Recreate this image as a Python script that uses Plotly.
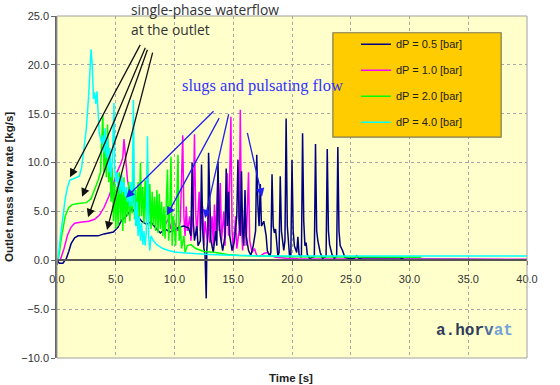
import plotly.graph_objects as go

# ---------------- data ----------------
navy_t = [
    0, 0.2, 0.5, 0.8, 1.0, 1.2, 1.5, 1.8, 2.5, 3.5,
    4.0, 4.4, 4.8, 5.2, 5.5, 5.8, 6.1, 6.4, 6.8, 7.2,
    7.6, 8.0, 8.4, 8.8, 9.2, 9.6, 10.0, 10.4, 10.8, 11.2,
    11.4, 11.5, 11.6, 11.7, 11.9, 12.0, 12.2, 12.3, 12.4, 12.5,
    12.6, 12.7, 12.75, 12.85, 12.9, 13.0, 13.1, 13.3, 13.5, 13.6,
    13.7, 13.8, 13.9, 14.1, 14.3, 14.4, 14.5, 14.6, 14.7, 14.9,
    15.1, 15.3, 15.4, 15.5, 15.6, 15.7, 15.8, 15.9, 16.0, 16.1,
    16.3, 16.5, 16.7, 16.9, 17.0, 17.1, 17.2, 17.3, 17.4, 17.6,
    17.8, 17.9, 18.1, 18.2, 18.3, 18.4, 18.5, 18.6, 18.7, 18.8,
    18.9, 19.0, 19.1, 19.2, 19.3, 19.4, 19.5, 19.6, 19.7, 19.8,
    19.9, 20.0, 20.1, 20.2, 20.4, 20.5, 20.6, 20.8, 20.9, 21.0,
    21.1, 21.2, 21.3, 21.5, 21.9, 22.0, 22.1, 22.2, 22.4, 22.6,
    22.9, 23.0, 23.1, 23.2, 23.4, 23.6, 23.8, 23.9, 24.0, 24.1,
    24.3, 24.5, 24.8, 25.3, 25.5, 25.7, 26.0, 29.2, 29.5, 40.0]
navy_v = [
    0, -0.3, -0.3, 0.2, 0.9, 1.7, 2.3, 2.5, 2.5, 2.5,
    2.7, 2.8, 2.9, 3.4, 4.1, 4.4, 4.8, 5.3, 4.6, 4.0,
    3.7, 3.9, 3.3, 2.8, 3.2, 2.9, 3.1, 3.4, 3.5, 3.3,
    2.5, 10.0, 4.0, 2.0, 3.5, 1.5, 2.0, 9.8, 3.0, 1.2,
    0.6, -3.9, 1.0, 3.0, 11.0, 4.5, 2.0, 0.8, 3.0, 1.5,
    10.1, 4.0, 2.5, 1.0, 2.5, 9.4, 3.5, 7.0, 2.5, 1.0,
    2.0, 4.5, 10.3, 4.0, 2.5, 9.1, 3.0, 1.5, 7.2, 2.5,
    1.0, 0.5, 1.5, 3.0, 10.8, 5.5, 3.5, 7.8, 3.5, 4.0,
    2.5, 1.0, 0.4, 0.8, 8.8, 3.5, 2.8, 3.2, 1.5, 0.4,
    0.8, 8.6, 3.0, 1.8, 1.0, 2.0, 14.5, 3.5, 1.5, 0.3,
    0.5, 10.3, 3.0, 1.5, 0.8, 2.4, 0.6, 0.3, 13.0, 4.0,
    1.5, 1.8, 0.6, 0.2, 0.4, 11.9, 3.0, 2.0, 0.8, 0.2,
    0.4, 11.4, 3.0, 1.6, 0.6, 0.2, 0.4, 11.6, 3.0, 1.5,
    1.0, 0.3, 0.2, 0.2, 0.45, 0.2, 0.25, 0.25, 0.1, 0.05]

mag_t = [
    0, 0.3, 0.6, 0.9, 1.2, 1.5, 2.0, 2.7, 3.2, 3.6,
    4.0, 4.4, 4.8, 5.1, 5.4, 5.6, 5.7, 5.8, 6.0, 6.2,
    6.5, 6.8, 7.1, 7.4, 7.7, 8.0, 8.3, 8.6, 8.9, 9.2,
    9.5, 9.7, 10.0, 10.3, 10.5, 10.7, 10.8, 10.9, 11.0, 11.1,
    11.3, 11.4, 11.6, 11.7, 11.8, 11.9, 12.0, 12.1, 12.2, 12.4,
    12.5, 12.6, 12.8, 12.9, 13.0, 13.2, 13.3, 13.4, 13.5, 13.7,
    13.8, 13.9, 14.0, 14.2, 14.3, 14.5, 14.6, 14.8, 14.9, 15.0,
    15.2, 15.3, 15.5, 15.6, 15.7, 15.8, 16.0, 16.1, 16.3, 16.4,
    16.6, 16.8, 17.0, 17.3, 17.6, 17.9, 18.2, 18.6, 19.5, 20.5,
    40.0]
mag_v = [
    0, 0.1, 1.2, 2.6, 3.4, 3.8, 3.9, 4.0, 4.2, 4.6,
    5.4, 6.5, 7.8, 9.0, 9.8, 10.5, 12.4, 11.0, 8.2, 7.0,
    6.5, 5.5, 6.8, 5.2, 6.0, 4.8, 5.5, 4.5, 4.8, 3.6,
    4.3, 3.2, 3.8, 3.0, 4.0, 12.8, 4.5, 2.5, 5.5, 3.0,
    4.5, 2.0, 5.0, 12.9, 5.0, 2.5, 4.5, 7.0, 3.0, 5.5,
    1.5, 4.0, 2.0, 6.0, 1.8, 4.5, 1.5, 5.7, 2.0, 9.1,
    3.0, 7.9, 2.0, 5.0, 1.5, 8.9, 2.5, 14.7, 3.0, 1.0,
    4.5, 1.2, 3.0, 15.4, 3.5, 1.0, 6.0, 1.5, 9.0, 2.0,
    0.8, 1.2, 0.5, 0.4, 0.7, 0.8, 0.5, 0.3, 0.2, 0.15,
    0.1]

grn_t = [
    0, 0.15, 0.4, 0.7, 1.0, 1.3, 1.8, 2.5, 2.9, 3.2,
    3.5, 3.7, 3.9, 4.0, 4.1, 4.2, 4.3, 4.4, 4.5, 4.6,
    4.7, 4.8, 4.9, 5.0, 5.1, 5.2, 5.3, 5.4, 5.5, 5.6,
    5.7, 5.8, 5.9, 6.0, 6.1, 6.2, 6.3, 6.4, 6.5, 6.6,
    6.7, 6.8, 6.9, 7.0, 7.1, 7.2, 7.3, 7.4, 7.5, 7.6,
    7.7, 7.8, 7.9, 8.0, 8.1, 8.2, 8.3, 8.4, 8.5, 8.6,
    8.7, 8.8, 8.9, 9.0, 9.1, 9.2, 9.3, 9.4, 9.5, 9.6,
    9.7, 9.8, 9.9, 10.0, 10.1, 10.3, 10.4, 10.5, 10.6, 10.8,
    10.9, 11.1, 11.4, 11.8, 12.5, 13.5, 14.5, 15.5, 17.0, 20.0,
    31.0]
grn_v = [
    0, 0.3, 2.5, 4.5, 5.4, 5.7, 5.8, 5.9, 6.3, 7.2,
    8.2, 9.0, 14.9, 9.0, 12.0, 8.5, 13.9, 8.0, 11.0, 6.0,
    9.5, 4.0, 8.0, 3.2, 7.5, 3.5, 9.0, 4.0, 7.8, 3.0,
    8.5, 3.8, 7.0, 4.5, 8.0, 4.0, 7.5, 4.8, 9.5, 4.2,
    7.2, 3.5, 8.0, 4.0, 10.0, 4.5, 7.5, 3.8, 8.2, 4.2,
    10.1, 3.5, 7.8, 3.2, 7.0, 3.6, 6.5, 3.0, 7.2, 2.8,
    6.8, 3.2, 6.0, 2.5, 5.5, 2.2, 6.5, 9.3, 2.0, 5.0,
    10.6, 1.5, 4.5, 2.5, 1.5, 10.8, 2.0, 3.5, 1.2, 2.5,
    0.8, 1.5, 1.6, 1.2, 0.9, 0.8, 0.6, 0.5, 0.45, 0.35,
    0.3]

cyn_t = [
    0, 0.1, 0.3, 0.5, 0.7, 0.9, 1.1, 1.5, 1.9, 2.1,
    2.3, 2.5, 2.7, 2.9, 3.0, 3.1, 3.2, 3.3, 3.4, 3.5,
    3.6, 3.8, 3.9, 4.0, 4.1, 4.2, 4.3, 4.4, 4.5, 4.6,
    4.7, 4.85, 4.9, 5.0, 5.1, 5.2, 5.3, 5.4, 5.5, 5.6,
    5.7, 5.8, 5.9, 6.0, 6.1, 6.2, 6.3, 6.4, 6.5, 6.6,
    6.7, 6.8, 6.9, 7.0, 7.1, 7.2, 7.3, 7.4, 7.5, 7.6,
    7.7, 7.8, 7.9, 8.0, 8.2, 8.5, 9.0, 9.5, 10.0, 11.0,
    12.0, 13.0, 14.0, 15.0, 17.0, 20.0, 40.0]
cyn_v = [
    0, 0.2, 2.5, 4.5, 6.3, 7.5, 8.2, 8.4, 8.6, 9.5,
    11.5, 13.5, 17.0, 21.6, 20.0, 16.5, 17.2, 16.0, 17.3, 15.0,
    13.0, 12.0, 12.8, 11.0, 13.5, 10.5, 12.5, 9.0, 11.5, 8.5,
    10.0, 16.1, 9.5, 8.0, 9.0, 7.2, 8.5, 6.8, 8.8, 7.0,
    8.0, 6.5, 7.5, 6.0, 7.0, 5.5, 8.0, 5.5, 16.4, 5.5,
    3.5, 6.0, 2.5, 4.5, 2.0, 3.8, 1.6, 3.0, 1.5, 2.8,
    12.7, 2.5, 1.0, 2.5, 2.0, 1.6, 1.2, 1.0, 0.85, 0.75,
    0.65, 0.6, 0.55, 0.5, 0.45, 0.45, 0.45]

series_names = ["dP = 0.5 [bar]", "dP = 1.0 [bar]", "dP = 2.0 [bar]", "dP = 4.0 [bar]"]
x_ticks = [0, 5, 10, 15, 20, 25, 30, 35, 40]
y_ticks = [-10, -5, 0, 5, 10, 15, 20, 25]

# arrows: (tail_t, tail_v, head_t, head_v)
black_arrows = [(7.15, 22.2, 1.1, 8.5), (7.57, 21.9, 2.13, 6.5),
                (7.74, 21.7, 2.64, 4.4), (8.17, 21.4, 4.26, 3.1)]
blue_arrows = [(13.45, 15.4, 5.87, 6.4), (13.87, 14.7, 9.36, 4.6),
               (14.64, 15.1, 12.6, 4.3), (16.17, 13.2, 17.45, 6.5)]

# ---------------- figure ----------------
XR = [0, 40]
YR = [-10, 25]
FONT = "Liberation Sans, Arial, sans-serif"

fig = go.Figure()
traces = [
    (mag_t, mag_v, series_names[1], "#FF00FF", 2),
    (navy_t, navy_v, series_names[0], "#000080", 1),
    (grn_t, grn_v, series_names[2], "#00FF00", 3),
    (cyn_t, cyn_v, series_names[3], "#00FFFF", 4),
]
for t, v, name, col, rank in traces:
    fig.add_trace(go.Scatter(x=t, y=v, mode="lines", name=name,
                             line=dict(color=col, width=1.5),
                             legendrank=rank, legendgroup=name))

for tt, tv, ht, hv in black_arrows:
    fig.add_annotation(x=ht, y=hv, ax=tt, ay=tv, xref="x", yref="y",
                       axref="x", ayref="y", text="", showarrow=True,
                       arrowhead=2, arrowsize=1.3, arrowwidth=1.3,
                       arrowcolor="#111111")
for tt, tv, ht, hv in blue_arrows:
    fig.add_annotation(x=ht, y=hv, ax=tt, ay=tv, xref="x", yref="y",
                       axref="x", ayref="y", text="", showarrow=True,
                       arrowhead=2, arrowsize=1.3, arrowwidth=1.3,
                       arrowcolor="#2222EE")

# text annotations
fig.add_annotation(x=0.153, y=1.02, xref="paper", yref="paper", xanchor="left",
                   yanchor="middle", showarrow=False, text="single-phase waterflow",
                   font=dict(family="Open Sans", size=13.8, color="#333333"))
fig.add_annotation(x=0.153, y=0.96, xref="paper", yref="paper", xanchor="left",
                   yanchor="middle", showarrow=False, text="at the outlet",
                   font=dict(family="Open Sans", size=13.8, color="#333333"))
fig.add_annotation(x=0.262, y=0.796, xref="paper", yref="paper", xanchor="left",
                   yanchor="middle", showarrow=False, text="slugs and pulsating flow",
                   font=dict(family="Liberation Serif, Times New Roman, serif", size=16.5,
                             color="#3333FF"))
fig.add_annotation(x=0.802, y=0.078, xref="paper", yref="paper", xanchor="left",
                   yanchor="middle", showarrow=False,
                   text="<b><span style='color:#2F3C5A'>a.hor</span>"
                        "<span style='color:#4E6E9E'>v</span>"
                        "<span style='color:#74A2DA'>at</span></b>",
                   font=dict(family="Liberation Mono, Courier New, monospace", size=16))
fig.add_annotation(x=-0.102, y=0.5, xref="paper", yref="paper", textangle=-90,
                   xanchor="center", yanchor="middle",
                   showarrow=False, text="<b>Outlet mass flow rate [kg/s]</b>",
                   font=dict(family=FONT, size=11.5, color="#222222"))
fig.add_annotation(x=0.498, y=-0.059, xref="paper", yref="paper",
                   xanchor="center", yanchor="middle",
                   showarrow=False, text="<b>Time [s]</b>",
                   font=dict(family=FONT, size=11.5, color="#222222"))

# plot frame and legend box
fig.add_shape(type="rect", xref="paper", yref="paper", x0=0, x1=1, y0=0, y1=1,
              line=dict(color="#A0A0A0", width=1), layer="above")
fig.add_shape(type="rect", xref="paper", yref="paper", x0=0.587, x1=0.945,
              y0=0.646, y1=0.951, fillcolor="#FFCC00",
              line=dict(color="#807A50", width=1.2), layer="above")

fig.update_layout(
    width=560, height=385,
    margin=dict(l=57, r=33, t=16, b=27, autoexpand=False),
    paper_bgcolor="white", plot_bgcolor="#FFFFCC",
    font=dict(family=FONT, size=11, color="#333333"),
    showlegend=True,
    legend=dict(x=0.636, y=0.96, xanchor="left", yanchor="top",
                bgcolor="rgba(0,0,0,0)", borderwidth=0,
                font=dict(family=FONT, size=11, color="#222222"),
                tracegroupgap=7, traceorder="grouped"),
    xaxis=dict(range=XR, tickvals=x_ticks, tickformat=".1f",
               showgrid=True, gridcolor="#A8A8A8", griddash="dot", gridwidth=1,
               zeroline=False, showline=True, linecolor="#555555", linewidth=1.5,
               ticks="outside", ticklen=4, tickcolor="#555555",
               ticklabelstandoff=5,
               anchor="free", position=(0 - YR[0]) / (YR[1] - YR[0]),
               tickfont=dict(size=11, color="#333333")),
    yaxis=dict(range=YR, tickvals=y_ticks, tickformat=".1f",
               showgrid=True, gridcolor="#A8A8A8", griddash="dot", gridwidth=1,
               zeroline=False, showline=True, linecolor="#666666", linewidth=1.5,
               ticks="outside", ticklen=4, tickcolor="#666666",
               tickfont=dict(size=11, color="#333333")),
)

# remove the default 8px page margin so the 560x385 figure fills the window
fig.write_html("out.html", config={"displayModeBar": False},
               post_script="document.body.style.margin='0';")
